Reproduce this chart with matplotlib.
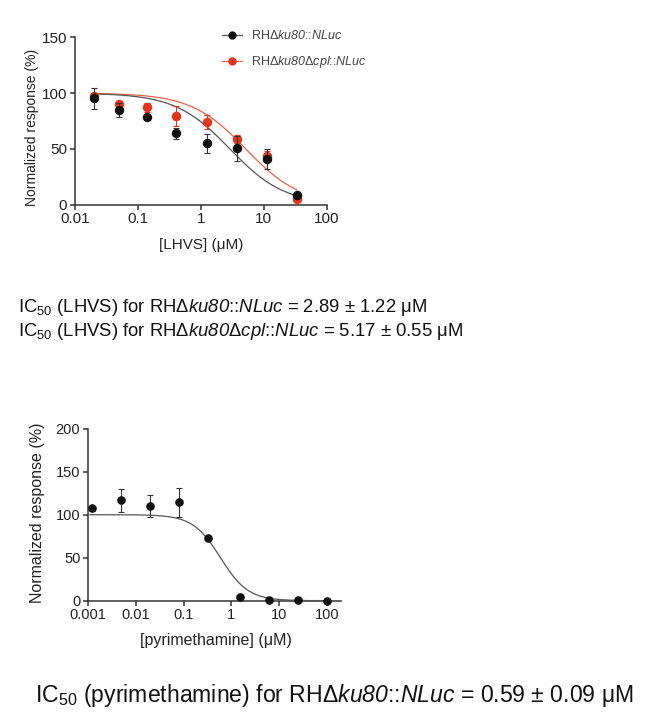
import numpy as np
import matplotlib
matplotlib.use("Agg")
import matplotlib.pyplot as plt
from matplotlib.lines import Line2D

plt.rcParams['font.family'] = ['Liberation Sans', 'DejaVu Sans']
plt.rcParams['mathtext.fontset'] = 'custom'
plt.rcParams['mathtext.it'] = 'Liberation Sans:italic'
# digits inside \mathit are taken from the rm font; make it italic so "ku80" is fully italic
plt.rcParams['mathtext.rm'] = 'Liberation Sans:italic'
plt.rcParams['mathtext.default'] = 'regular'

# ---------------- data ----------------
lhvs_conc = [0.02, 0.05, 0.14, 0.41, 1.23, 3.7, 11.1, 33.3]
wt_resp = [95.2, 85.0, 78.4, 63.8, 55.0, 50.6, 40.7, 8.4]
wt_err = [9.3, 6.0, 1.5, 4.5, 8.5, 11.0, 9.0, 1.5]
cpl_resp = [97.0, 89.8, 87.1, 79.6, 74.0, 58.7, 44.0, 5.4]
cpl_err = [3.0, 2.0, 4.0, 9.0, 6.5, 3.5, 4.5, 1.0]
lhvs_ic50 = [2.89, 5.17]
lhvs_hill = [1.0, 1.0]

pyr_conc = [0.00123, 0.0049, 0.02, 0.079, 0.32, 1.5, 6.2, 24.6, 100]
pyr_resp = [107.3, 116.7, 110.4, 114.3, 73.0, 3.9, 1.2, 0.8, 0.0]
pyr_err = [3.0, 13.5, 12.5, 17.0, 1.5, 1.0, 0.5, 0.5, 0.5]
pyr_ic50 = 0.59
pyr_hill = 1.5

top_xticks = [0.01, 0.1, 1, 10, 100]
top_xticklabels = ['0.01', '0.1', '1', '10', '100']
top_yticks = [0, 50, 100, 150]
bot_xticks = [0.001, 0.01, 0.1, 1, 10, 100]
bot_xticklabels = ['0.001', '0.01', '0.1', '1', '10', '100']
bot_yticks = [0, 50, 100, 150, 200]

legend_labels = [r'RHΔ$\mathit{ku80}$::$\mathit{NLuc}$',
                 r'RHΔ$\mathit{ku80}$Δ$\mathit{cpl}$::$\mathit{NLuc}$']
ic50_lines = [r'IC$_{50}$ (LHVS) for RHΔ$\mathit{ku80}$::$\mathit{NLuc}$ = 2.89 ± 1.22 μM',
              r'IC$_{50}$ (LHVS) for RHΔ$\mathit{ku80}$Δ$\mathit{cpl}$::$\mathit{NLuc}$ = 5.17 ± 0.55 μM']
ic50_pyr = r'IC$_{50}$ (pyrimethamine) for RHΔ$\mathit{ku80}$::$\mathit{NLuc}$ = 0.59 ± 0.09 μM'


def logistic(x, ic50, hill):
    return 100.0 / (1.0 + (x / ic50) ** hill)


BLACK = '#111111'
RED = '#e5341d'
RED_LINE = '#e8604c'
AX = '#333333'

fig = plt.figure(figsize=(6.6, 7.18), dpi=100)


def style_axes(ax, tick_size):
    for s in ['top', 'right']:
        ax.spines[s].set_visible(False)
    for s in ['left', 'bottom']:
        ax.spines[s].set_linewidth(1.1)
        ax.spines[s].set_color(AX)
    ax.tick_params(axis='both', which='major', direction='out', length=3.5,
                   width=1.1, color=AX, labelsize=tick_size, labelcolor='#222222', pad=2)
    ax.tick_params(axis='x', which='minor', length=0)
    ax.set_facecolor('none')


# ---------------- top plot ----------------
ax1 = fig.add_axes([75 / 660, 1 - 204.7 / 718, 251.7 / 660, 167.4 / 718])
ax1.set_xscale('log')
xs = np.logspace(np.log10(lhvs_conc[0]), np.log10(lhvs_conc[-1]), 300)
ax1.plot(xs, logistic(xs, lhvs_ic50[1], lhvs_hill[1]), color=RED_LINE, lw=0.9, zorder=2)
ax1.plot(xs, logistic(xs, lhvs_ic50[0], lhvs_hill[0]), color='#555555', lw=0.9, zorder=3)
ax1.errorbar(lhvs_conc, cpl_resp, yerr=cpl_err, fmt='o', color=RED, ms=5.8,
             ecolor=RED, elinewidth=0.8, capsize=2.5, capthick=0.8, zorder=4, clip_on=False)
ax1.errorbar(lhvs_conc, wt_resp, yerr=wt_err, fmt='o', color=BLACK, ms=5.8,
             ecolor='#333333', elinewidth=0.8, capsize=2.5, capthick=0.8, zorder=5, clip_on=False)
ax1.set_xlim(0.01, 100)
ax1.set_ylim(0, 150)
ax1.set_xticks(top_xticks)
ax1.set_xticklabels(top_xticklabels)
ax1.set_yticks(top_yticks)
style_axes(ax1, 11)
ax1.set_ylabel('Normalized response (%)', fontsize=10, color='#222222')
ax1.yaxis.set_label_coords(-0.145, 0.46)
ax1.set_xlabel('[LHVS] (μM)', fontsize=11, color='#222222')
ax1.xaxis.set_label_coords(0.503, -0.2)

handles = [Line2D([], [], color='#555555', lw=0.9, marker='o', ms=5, mfc=BLACK, mec=BLACK),
           Line2D([], [], color=RED_LINE, lw=0.9, marker='o', ms=5, mfc=RED, mec=RED)]
fig.legend(handles, legend_labels, loc='upper left',
           bbox_to_anchor=(222 / 660, 1 - 29 / 718), frameon=False, fontsize=9,
           labelcolor='#444444', handlelength=1.6, handletextpad=0.75,
           labelspacing=0.95, borderpad=0, borderaxespad=0)

# ---------------- IC50 texts ----------------
fig.text(18 / 660, 1 - 312 / 718, ic50_lines[0], fontsize=13.3, color='#111111', va='baseline')
fig.text(18 / 660, 1 - 336 / 718, ic50_lines[1], fontsize=13.3, color='#111111', va='baseline')

# ---------------- bottom plot ----------------
ax2 = fig.add_axes([88 / 660, 1 - 600.7 / 718, 253.4 / 660, 172 / 718])
ax2.set_xscale('log')
xs2 = np.logspace(np.log10(0.0011), np.log10(110), 300)
ax2.plot(xs2, logistic(xs2, pyr_ic50, pyr_hill), color='#555555', lw=0.9, zorder=3)
ax2.errorbar(pyr_conc, pyr_resp, yerr=pyr_err, fmt='o', color=BLACK, ms=5.2,
             ecolor='#333333', elinewidth=0.8, capsize=2.5, capthick=0.8, zorder=5, clip_on=False)
ax2.set_xlim(0.001, 200)
ax2.set_ylim(0, 200)
ax2.set_xticks(bot_xticks)
ax2.set_xticklabels(bot_xticklabels)
ax2.set_yticks(bot_yticks)
style_axes(ax2, 10.5)
ax2.set_ylabel('Normalized response (%)', fontsize=11.5, color='#222222')
ax2.yaxis.set_label_coords(-0.17, 0.51)
ax2.set_xlabel('[pyrimethamine] (μM)', fontsize=11.5, color='#222222')
ax2.xaxis.set_label_coords(0.505, -0.19)

fig.text(35 / 660, 1 - 702 / 718, ic50_pyr, fontsize=16.6, color='#111111', va='baseline')

fig.savefig('out.png', dpi=100, facecolor='white')
